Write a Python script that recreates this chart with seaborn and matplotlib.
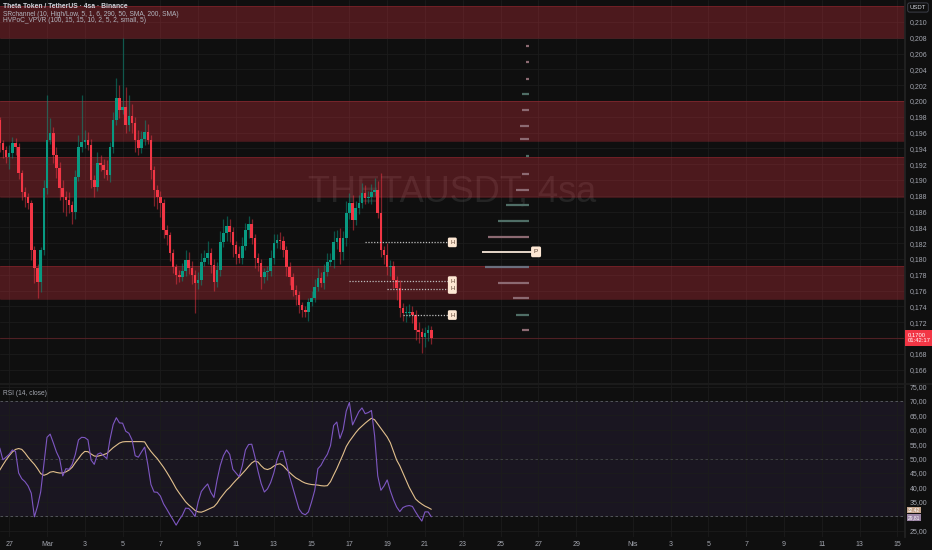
import pandas as pd
import matplotlib
matplotlib.use("Agg")
import matplotlib.pyplot as plt
import matplotlib.dates as mdates
import matplotlib.transforms as mtransforms
from matplotlib.colors import to_rgba
import seaborn as sns

# ---- THETAUSDT 4h candles ----
FIRST_OPEN = 0.1976
closes = [
    0.1947, 0.1938, 0.1929, 0.1934, 0.1947, 0.1942, 0.1909, 0.1885, 0.1878, 0.1871,
    0.1811, 0.1789, 0.1771, 0.1811, 0.1890, 0.1951, 0.1959, 0.1932, 0.1915, 0.1890,
    0.1878, 0.1875, 0.1868, 0.1859, 0.1904, 0.1942, 0.1948, 0.1951, 0.1944, 0.1900,
    0.1891, 0.1921, 0.1919, 0.1913, 0.1906, 0.1942, 0.1976, 0.2004, 0.1989, 0.1992,
    0.1970, 0.1981, 0.1972, 0.1951, 0.1940, 0.1952, 0.1961, 0.1951, 0.1913, 0.1887,
    0.1878, 0.1871, 0.1837, 0.1830, 0.1808, 0.1790, 0.1780, 0.1777, 0.1785, 0.1799,
    0.1789, 0.1780, 0.1770, 0.1773, 0.1796, 0.1801, 0.1808, 0.1792, 0.1771, 0.1786,
    0.1821, 0.1833, 0.1842, 0.1834, 0.1818, 0.1806, 0.1801, 0.1816, 0.1837, 0.1844,
    0.1827, 0.1801, 0.1795, 0.1777, 0.1784, 0.1785, 0.1801, 0.1820, 0.1824, 0.1823,
    0.1811, 0.1790, 0.1777, 0.1761, 0.1754, 0.1742, 0.1735, 0.1733, 0.1746, 0.1751,
    0.1765, 0.1776, 0.1770, 0.1784, 0.1796, 0.1799, 0.1821, 0.1827, 0.1809, 0.1827,
    0.1858, 0.1871, 0.1849, 0.1865, 0.1871, 0.1884, 0.1877, 0.1878, 0.1885, 0.1887,
    0.1858, 0.1811, 0.1805, 0.1790, 0.1791, 0.1773, 0.1763, 0.1738, 0.1732, 0.1732,
    0.1733, 0.1729, 0.1710, 0.1708, 0.1701, 0.1706, 0.1710, 0.1700,
]
# wick lengths above / below the body, in units of 0.0001
wick_up = [
    4, 3, 5, 10, 8, 6, 5, 4, 6, 5,
    4, 6, 5, 4, 10, 56, 19, 8, 10, 8,
    10, 8, 10, 6, 8, 15, 60, 12, 10, 8,
    6, 15, 10, 8, 12, 6, 10, 25, 16, 88,
    26, 26, 15, 8, 12, 10, 15, 10, 6, 5,
    6, 8, 5, 6, 4, 5, 4, 6, 10, 12,
    10, 8, 6, 10, 12, 10, 15, 6, 8, 10,
    15, 18, 12, 8, 6, 5, 10, 12, 8, 10,
    6, 5, 6, 5, 4, 6, 10, 12, 8, 10,
    6, 5, 6, 5, 6, 5, 4, 6, 5, 8,
    10, 12, 8, 10, 12, 8, 15, 10, 12, 8,
    15, 12, 10, 8, 10, 12, 10, 8, 10, 15,
    12, 51, 6, 15, 8, 6, 5, 10, 6, 8,
    10, 8, 6, 10, 5, 8, 6, 5,
]
wick_dn = [
    12, 10, 8, 15, 6, 10, 8, 10, 12, 8,
    12, 20, 20, 13, 6, 8, 5, 10, 12, 15,
    18, 20, 10, 15, 8, 5, 6, 8, 6, 10,
    12, 5, 8, 10, 6, 8, 8, 6, 10, 6,
    10, 8, 12, 15, 8, 6, 8, 6, 12, 20,
    15, 18, 10, 12, 10, 8, 12, 6, 5, 6,
    8, 12, 38, 8, 6, 5, 8, 10, 12, 6,
    8, 6, 10, 12, 15, 12, 6, 8, 5, 10,
    8, 12, 10, 15, 8, 10, 6, 8, 6, 10,
    8, 12, 10, 8, 12, 10, 8, 6, 12, 6,
    5, 6, 5, 8, 6, 5, 10, 8, 15, 10,
    10, 8, 12, 6, 8, 6, 8, 6, 8, 5,
    6, 8, 12, 10, 12, 10, 15, 12, 10, 12,
    6, 10, 12, 15, 20, 12, 10, 8,
]

# ---- RSI (14, close) and its moving average ----
rsi = [
    53.7, 49.6, 50.5, 51.5, 53.0, 52.5, 45.0, 43.0, 42.0, 40.5,
    38.0, 29.8, 33.5, 38.5, 48.0, 57.4, 58.5, 55.5, 52.3, 50.0,
    44.0, 46.5, 46.3, 48.0, 51.5, 56.5, 57.4, 57.3, 56.5, 49.5,
    48.0, 51.5, 52.0, 51.0, 50.0, 56.7, 61.8, 64.2, 62.4, 62.3,
    59.5, 58.8, 56.5, 51.0, 50.5, 52.3, 54.0, 48.0, 41.0, 38.4,
    38.3, 37.0, 34.3, 32.5, 30.6, 28.8, 26.9, 28.8, 30.4, 32.8,
    32.7, 31.5, 29.9, 35.0, 38.6, 40.0, 41.2, 38.3, 36.5, 42.6,
    47.6, 51.0, 53.0, 51.5, 46.3, 45.0, 43.7, 47.5, 53.0, 54.9,
    55.0, 50.7, 45.6, 41.3, 38.4, 39.5, 41.7, 45.0, 49.5, 52.5,
    52.6, 48.5, 43.8, 40.0, 36.3, 32.5, 31.0, 30.5, 31.5, 35.0,
    39.0, 46.5, 47.7, 49.8, 51.5, 54.5, 61.5, 62.7, 57.0, 60.0,
    66.5, 69.5, 61.7, 64.0, 66.3, 67.6, 65.6, 66.0, 66.7, 58.0,
    44.0, 39.0, 40.5, 42.6, 38.8, 35.7, 33.2, 31.6, 33.0, 33.5,
    33.7, 33.4, 31.5, 29.8, 28.3, 31.5, 31.5, 29.8,
]
rsi_ma = [
    46.0, 47.8, 49.5, 51.0, 52.3, 53.2, 53.5, 53.2, 52.0, 50.5,
    49.2, 48.0, 46.5, 44.8, 44.2, 44.6, 45.3, 45.5, 45.2, 45.0,
    45.0, 45.4, 46.0, 47.0, 48.6, 50.0, 51.5, 52.5, 52.4, 51.6,
    50.9, 50.8, 51.1, 51.4, 51.8, 52.8, 53.8, 54.6, 55.4, 55.8,
    55.9, 55.9, 55.9, 55.9, 55.9, 55.9, 55.8, 54.0, 52.5, 51.2,
    50.0, 48.5, 47.0, 45.3, 43.5, 41.6, 39.6, 38.0, 36.5, 35.0,
    33.9, 33.0, 32.0, 31.5, 31.4, 31.8, 32.3, 32.8, 33.3, 34.5,
    36.2, 37.6, 39.0, 40.0, 41.3, 42.5, 43.6, 44.8, 46.0, 47.3,
    48.5, 49.2, 48.8, 47.5, 46.5, 46.2, 46.6, 47.4, 48.0, 48.2,
    47.5, 46.3, 45.2, 44.2, 43.3, 42.7, 42.0, 41.5, 41.2, 41.0,
    40.9, 40.8, 40.6, 40.5, 40.6, 42.0, 44.3, 46.5, 49.0, 51.5,
    54.2, 56.0, 57.5, 59.0, 60.3, 61.3, 62.3, 63.2, 64.0, 63.5,
    62.0, 60.5, 59.0, 57.5, 55.5, 52.5, 49.5, 47.5, 45.0, 42.5,
    40.0, 38.0, 36.0, 35.0, 34.2, 33.5, 33.0, 32.4,
]

# ---- SR channel zones (low, high) ----
sr_low = [0.2080, 0.1949, 0.1879, 0.1749]
sr_high = [0.2120, 0.2000, 0.1929, 0.1791]

# ---- volume profile rows ----
vp_levels = [0.2069, 0.2049, 0.2028, 0.2009, 0.1989, 0.1968, 0.1952, 0.1930, 0.1908,
             0.1887, 0.1868, 0.1848, 0.1828, 0.1790, 0.1770, 0.1750, 0.1729, 0.1710]
vp_volume = [3, 3, 3, 7, 7, 9, 9, 3, 7, 13, 23, 31, 41, 44, 31, 16, 13, 7]
poc_level = 0.1809
poc_volume = 47

# ---- high-volume level labels ----
hv_levels = [0.1821, 0.1772, 0.1762, 0.1729]
hv_starts = ["2025-03-17 20:00", "2025-03-17 00:00", "2025-03-19 00:00", "2025-03-19 20:00"]

last_price = 0.1700
rsi_last, ma_last = 29.81, 32.42

tick_dates = ["2025-02-27", "2025-03-01", "2025-03-03", "2025-03-05", "2025-03-07", "2025-03-09",
              "2025-03-11", "2025-03-13", "2025-03-15", "2025-03-17", "2025-03-19", "2025-03-21",
              "2025-03-23", "2025-03-25", "2025-03-27", "2025-03-29", "2025-04-01", "2025-04-03",
              "2025-04-05", "2025-04-07", "2025-04-09", "2025-04-11", "2025-04-13", "2025-04-15"]
tick_labels = ["27", "Mar", "3", "5", "7", "9", "11", "13", "15", "17", "19", "21", "23", "25",
               "27", "29", "Nis", "3", "5", "7", "9", "11", "13", "15"]

# ---- style ----
BG = "#0f0f0f"
UP, DN = "#089981", "#f23645"
TXT = "#a3a6af"
sns.set_theme(style="dark", rc={"axes.facecolor": BG, "figure.facecolor": BG})
plt.rcParams["font.family"] = ["Liberation Sans", "DejaVu Sans"]

times = pd.date_range(end="2025-03-21 08:00", periods=len(closes), freq="4h")
t = mdates.date2num(times)
opens = [FIRST_OPEN] + closes[:-1]
highs = [max(o, c) + u * 1e-4 for o, c, u in zip(opens, closes, wick_up)]
lows = [min(o, c) - d * 1e-4 for o, c, d in zip(opens, closes, wick_dn)]
up = [c >= o for o, c in zip(opens, closes)]

def dn(s):
    return mdates.date2num(pd.Timestamp(s))

fig = plt.figure(figsize=(9.32, 5.5), dpi=100)
ax = fig.add_axes([0, 1 - 383 / 550, 905 / 932, 383 / 550])
ax2 = fig.add_axes([0, 1 - 537 / 550, 905 / 932, 152 / 550], sharex=ax)

xlim = (dn("2025-02-26 12:19"), dn("2025-04-15 09:32"))
xt = [dn(d) for d in tick_dates]

for a in (ax, ax2):
    a.set_facecolor(BG)
    a.grid(True, color="#1c1c1c", lw=0.6)
    a.set_axisbelow(True)
    for s in a.spines.values():
        s.set_visible(False)
    a.spines["right"].set_visible(True)
    a.spines["right"].set_color("#232323")
    a.yaxis.tick_right()
    a.tick_params(axis="y", length=0, pad=3.5, labelsize=5, labelcolor=TXT)
    a.set_xticks(xt)

# ---- price pane ----
ax.set_xlim(*xlim)
ax.set_ylim(0.16430, 0.21278)
pt = [0.166 + 0.002 * k for k in range(23)]
ax.set_yticks(pt)
# the 0,170 label sits under the last-price tag
ax.set_yticklabels(["" if abs(v - last_price) < 1e-6 else f"{v:.3f}".replace(".", ",") for v in pt])
ax.tick_params(axis="x", length=0, labelbottom=False)

ax.text(0.5, 0.5, "THETAUSDT, 4sa", transform=ax.transAxes, ha="center", va="center",
        fontsize=26, color="white", alpha=0.09, zorder=1)

for lo, hi in zip(sr_low, sr_high):
    ax.axhspan(lo, hi, facecolor=DN, alpha=0.27, lw=0, zorder=1)
    ax.axhline(lo, color=DN, alpha=0.25, lw=0.6, zorder=1)
    ax.axhline(hi, color=DN, alpha=0.25, lw=0.6, zorder=1)

ax.axhline(last_price, color=DN, alpha=0.25, lw=0.8, zorder=1.5)

wick_cols = [to_rgba(UP if u else DN, 0.5) for u in up]
body_cols = [UP if u else DN for u in up]
ax.vlines(t, lows, highs, colors=wick_cols, lw=0.9, zorder=2)
ax.bar(t, [max(abs(c - o), 0.00006) for o, c in zip(opens, closes)],
       bottom=[min(o, c) for o, c in zip(opens, closes)],
       width=0.135, color=body_cols, lw=0, zorder=3)

# volume profile
anchor = dn("2025-03-26 12:00")
vp_cols = ["#8c6a72", "#8c6a72", "#8c6a72", "#4f6e66", "#8c6a72", "#8c6a72", "#8c6a72",
           "#4f6e66", "#8c6a72", "#8c6a72", "#4f6e66", "#4f6e66", "#8c6a72", "#6b6f7e",
           "#8c6a72", "#8c6a72", "#4f6e66", "#8c6a72"]
ax.hlines(vp_levels, [anchor - v / 18.9 for v in vp_volume], anchor, colors=vp_cols, lw=1.6, zorder=3)
ax.hlines(poc_level, anchor - poc_volume / 18.9, anchor + 4 / 18.9, colors="#f7e7d8", lw=1.3, zorder=4)
ax.text(anchor + 5 / 18.9, poc_level, "P", fontsize=4.6, color="#5a4030", ha="left", va="center",
        zorder=5, bbox=dict(boxstyle="round,pad=0.45,rounding_size=0.25", fc="#fde7d3", ec="none"))

box_x = dn("2025-03-22 08:00")
for lvl, st in zip(hv_levels, hv_starts):
    ax.hlines(lvl, dn(st), box_x - 0.05, colors="#bdbdbd", lw=0.9, linestyles=(0, (1, 1.3)), zorder=4)
    ax.text(box_x, lvl, "H", fontsize=4.2, color="#5a4030", ha="left", va="center", zorder=5,
            bbox=dict(boxstyle="round,pad=0.4,rounding_size=0.25", fc="#fde7d3", ec="none"))

blend = mtransforms.blended_transform_factory(ax.transAxes, ax.transData)
ax.text(1.003, last_price, "0,1700\n01:42:17", transform=blend, fontsize=4.2, color="white",
        ha="left", va="center", linespacing=1.1, zorder=10, clip_on=False,
        bbox=dict(boxstyle="square,pad=0.45", fc=DN, ec="none"))

# ---- RSI pane ----
df = pd.DataFrame({"time": times, "rsi": rsi, "ma": rsi_ma})
ax2.axhspan(30, 70, color="#7e57c2", alpha=0.1, lw=0, zorder=0.5)
for lvl, al in ((70, 0.7), (50, 0.45), (30, 0.7)):
    ax2.axhline(lvl, color="#787b86", lw=0.6, ls=(0, (3, 3)), alpha=al, zorder=1)
sns.lineplot(data=df, x="time", y="ma", ax=ax2, color="#e2c08d", lw=0.8, zorder=3)
sns.lineplot(data=df, x="time", y="rsi", ax=ax2, color="#7e57c2", lw=0.8, zorder=4)
ax2.set_xlim(*xlim)
ax2.set_ylim(22.78, 75.56)
rt = list(range(25, 80, 5))
ax2.set_yticks(rt)
# the 30,00 label is covered by the value tags
ax2.set_yticklabels(["" if v == 30 else f"{v:.2f}".replace(".", ",") for v in rt])
ax2.set_xlabel("")
ax2.set_ylabel("")
ax2.set_xticks(xt)
ax2.set_xticklabels(tick_labels)
ax2.tick_params(axis="x", length=0, pad=3, labelsize=5, labelcolor=TXT)
ax2.text(0.0035, 0.945, "RSI (14, close)", transform=ax2.transAxes, fontsize=4.8, color=TXT,
         ha="left", va="center")

blend2 = mtransforms.blended_transform_factory(ax2.transAxes, ax2.transData)
ax2.text(1.003, 32.1, f"{ma_last:.2f}".replace(".", ","), transform=blend2, fontsize=3.5,
         color="white", ha="left", va="center", zorder=10, clip_on=False,
         bbox=dict(boxstyle="square,pad=0.15", fc="#c4a48c", ec="none"))
ax2.text(1.003, 29.6, f"{rsi_last:.2f}".replace(".", ","), transform=blend2, fontsize=3.5,
         color="white", ha="left", va="center", zorder=10, clip_on=False,
         bbox=dict(boxstyle="square,pad=0.15", fc="#9c86a6", ec="none"))

# pane separator and header texts
fig.add_artist(plt.Line2D([0, 1], [1 - 384 / 550] * 2, color="#1e1e1e", lw=1.2))
fig.text(0.0032, 1 - 6.3 / 550, "Theta Token / TetherUS · 4sa · Binance", fontsize=4.9,
         color="#d1d4dc", fontweight="bold", va="center")
fig.text(0.0032, 1 - 14 / 550, "SRchannel (10, High/Low, 5, 1, 6, 290, 50, SMA, 200, SMA)",
         fontsize=4.8, color="#b2b5be", va="center")
fig.text(0.0032, 1 - 20.8 / 550, "HVPoC_VPVR (100, 15, 15, 10, 2, 5, 2, small, 5)",
         fontsize=4.8, color="#b2b5be", va="center")
fig.text(918 / 932, 1 - 7.5 / 550, "USDT", fontsize=4.3, color="#d1d4dc", ha="center", va="center",
         bbox=dict(boxstyle="round,pad=0.35,rounding_size=0.3", fc=BG, ec="#434651", lw=0.6))

fig.savefig("out.png", dpi=100, facecolor=BG)
